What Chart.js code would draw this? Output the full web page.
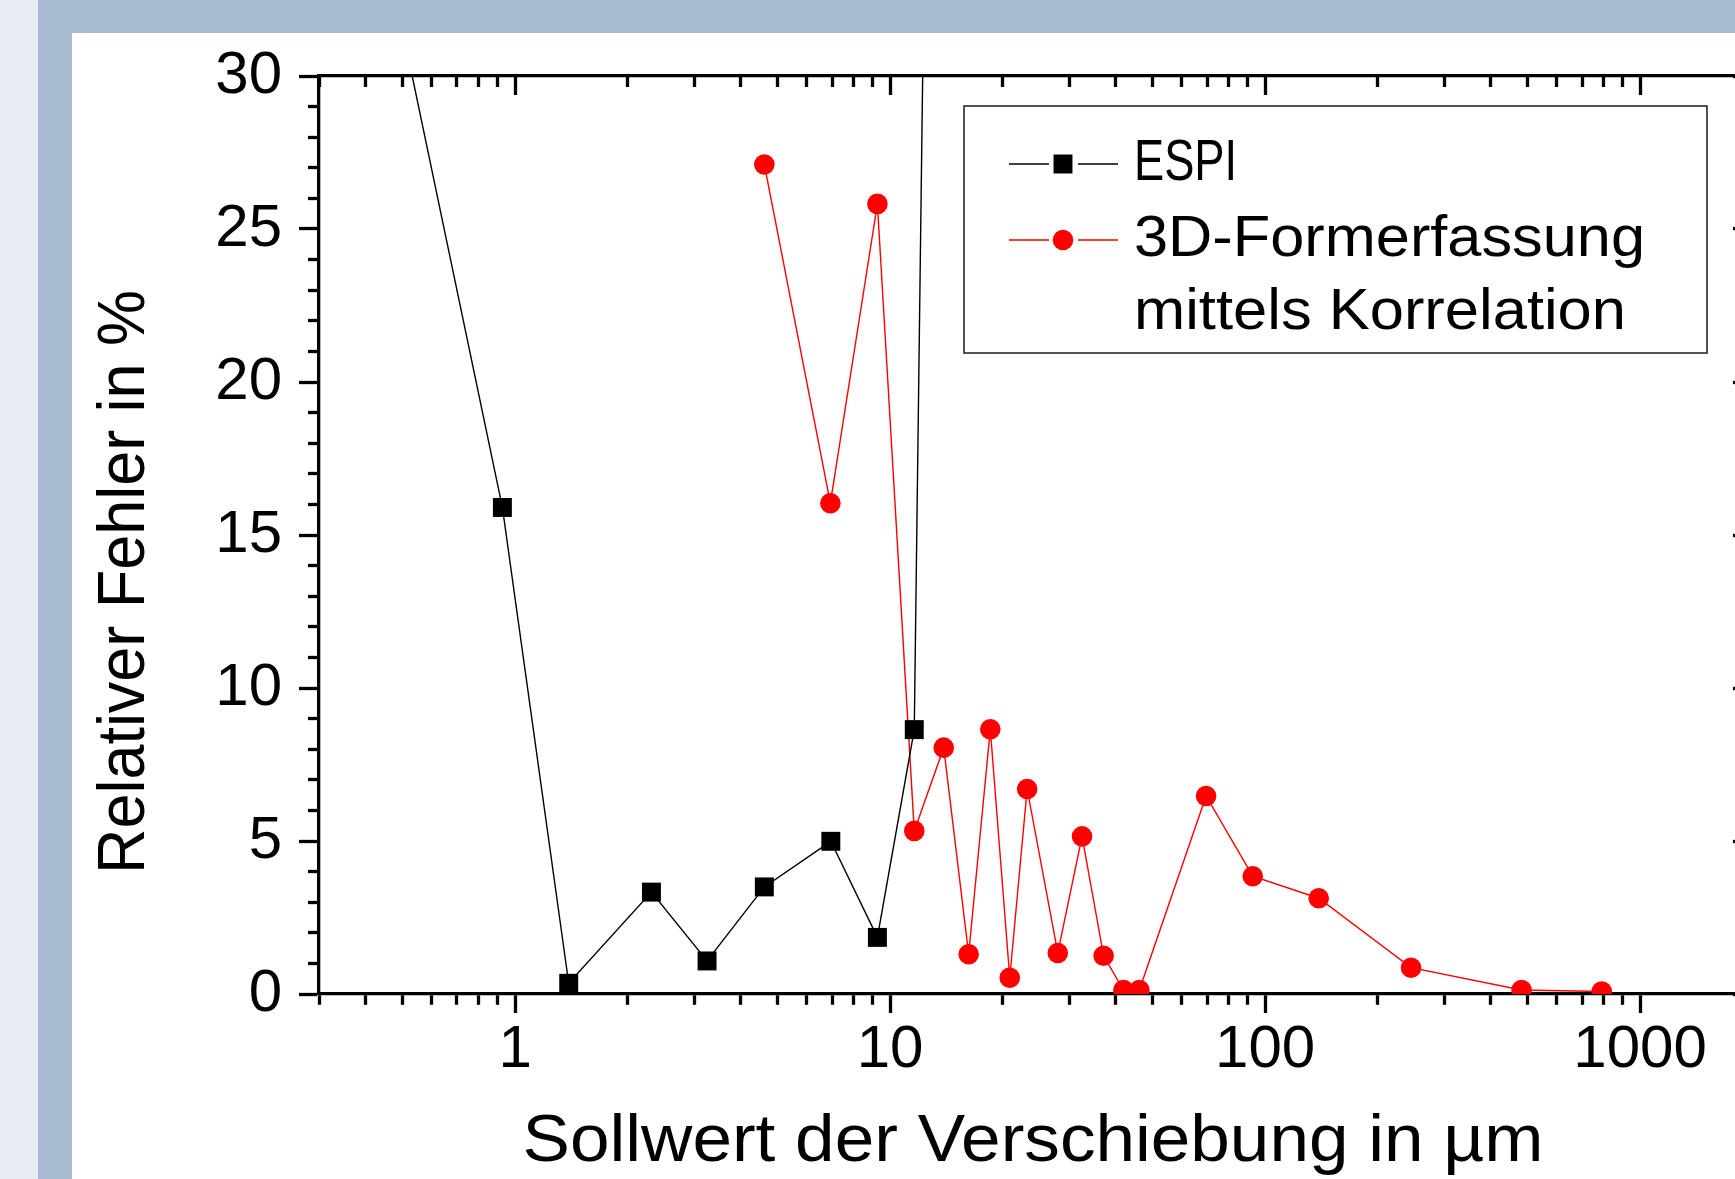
<!DOCTYPE html>
<html>
<head>
<meta charset="utf-8">
<script src="https://cdn.jsdelivr.net/npm/chart.js@4/dist/chart.umd.min.js"></script>
<style>
html,body{margin:0;padding:0;width:1735px;height:1179px;overflow:hidden;background:#e7ecf4;}
#blue{position:absolute;left:38px;top:0;width:1697px;height:1179px;background:#a9bbd1;}
#white{position:absolute;left:72px;top:33px;width:1663px;height:1146px;background:#ffffff;}
#c{position:absolute;left:0;top:0;}
</style>
</head>
<body>
<div id="blue"></div>
<div id="white"></div>
<canvas id="c" width="1800" height="1179"></canvas>
<script>
// ---- data ----
const espiX = [0.4615, 0.925, 1.39, 2.31, 3.25, 4.62, 6.95, 9.25, 11.6, 13.85];
const espiY = [33.6, 15.9, 0.35, 3.33, 1.08, 3.5, 4.99, 1.85, 8.64, 82];
const redX = [4.62, 6.93, 9.25, 11.6, 13.9, 16.2, 18.5, 20.85, 23.2, 28.0, 32.5, 37.1, 41.9, 46.2, 69.6, 92.7, 139, 245, 483, 790];
const redY = [27.11, 16.04, 25.82, 5.33, 8.05, 1.30, 8.65, 0.53, 6.70, 1.34, 5.15, 1.25, 0.13, 0.13, 6.47, 3.85, 3.13, 0.86, 0.13, 0.08];
const seriesLabels = ['ESPI', '3D-Formerfassung\nmittels Korrelation'];
const xTickLabels = [1, 10, 100, 1000];
const yTickLabels = [0, 5, 10, 15, 20, 25, 30];
const xTitle = 'Sollwert der Verschiebung in \u00b5m';
const yTitle = 'Relativer Fehler in %';

// ---- styling ----
const FONT = "'Liberation Sans', Arial, sans-serif";
const X_MIN = 0.3, X_MAX = 2000, Y_MIN = 0, Y_MAX = 30;
const AXW = 3.3;

function logTickValues() {
  const vals = [];
  for (let k = -1; k <= 3; k++) {
    for (let d = 1; d <= 9; d++) {
      const v = d * Math.pow(10, k);
      if (v >= X_MIN - 1e-9 && v <= X_MAX + 1e-9) vals.push(v);
    }
  }
  return vals;
}
const isDecade = v => Math.abs(Math.log10(v) - Math.round(Math.log10(v))) < 1e-9;
function setXTicks(scale) { scale.ticks = logTickValues().map(v => ({value: v, major: isDecade(v)})); }
function setYTicks(scale) {
  const t = [];
  for (let v = Y_MIN; v <= Y_MAX; v++) t.push({value: v, major: v % 5 === 0});
  scale.ticks = t;
}
const isMajor = c => c.tick && c.tick.major;

const pts = (xs, ys) => xs.map((x, i) => ({x: x, y: ys[i]}));

function drawFitted(ctx, text, x, y, w, align, rot) {
  ctx.save();
  ctx.translate(x, y);
  if (rot) ctx.rotate(rot);
  const m = ctx.measureText(text).width;
  ctx.scale(w / m, 1);
  ctx.textAlign = align;
  ctx.fillText(text, 0, 0);
  ctx.restore();
}

const decorPlugin = {
  id: 'decor',
  afterDraw(chart) {
    const ctx = chart.ctx;
    ctx.save();
    ctx.fillStyle = '#000';
    ctx.textBaseline = 'middle';
    // axis titles
    ctx.font = '66px ' + FONT;
    drawFitted(ctx, xTitle, 1033, 1143, 1021, 'center', 0);
    drawFitted(ctx, yTitle, 126, 582, 584, 'center', -Math.PI / 2);

    // legend box
    ctx.lineWidth = 1.5;
    ctx.strokeStyle = '#1a1a1a';
    ctx.strokeRect(964, 106, 743, 247);
    const rows = [
      {ds: 0, y: 164, lines: seriesLabels[0].split('\n'), widths: [103]},
      {ds: 1, y: 240, lines: seriesLabels[1].split('\n'), widths: [511, 492]}
    ];
    rows.forEach(r => {
      const ds = chart.data.datasets[r.ds];
      ctx.strokeStyle = ds.borderColor;
      ctx.lineWidth = ds.borderWidth;
      ctx.beginPath();
      ctx.moveTo(1009, r.y); ctx.lineTo(1049, r.y);
      ctx.moveTo(1078, r.y); ctx.lineTo(1118, r.y);
      ctx.stroke();
      ctx.fillStyle = ds.pointBackgroundColor;
      ctx.strokeStyle = ds.pointBackgroundColor;
      Chart.helpers.drawPoint(ctx, {pointStyle: ds.pointStyle, radius: ds.pointRadius, rotation: 0, borderWidth: 0}, 1063, r.y);
      ctx.fillStyle = '#000';
      ctx.font = '57px ' + FONT;
      r.lines.forEach((t, i) => drawFitted(ctx, t, 1134, r.y + i * 73, r.widths[i], 'left', 0));
    });
    ctx.restore();
  }
};

const tickFont = {family: FONT, size: 60, lineHeight: 1};

new Chart(document.getElementById('c'), {
  type: 'line',
  data: {
    datasets: [
      {
        label: seriesLabels[0],
        data: pts(espiX, espiY),
        borderColor: '#000000',
        borderWidth: 1.4,
        pointStyle: 'rect',
        pointRadius: 13.4,
        pointBackgroundColor: '#000000',
        pointBorderWidth: 0,
        tension: 0,
        xAxisID: 'x', yAxisID: 'y'
      },
      {
        label: seriesLabels[1],
        data: pts(redX, redY),
        borderColor: '#ff0000',
        borderWidth: 1.4,
        pointStyle: 'circle',
        pointRadius: 10.3,
        pointBackgroundColor: '#ff0000',
        pointBorderWidth: 0,
        tension: 0,
        xAxisID: 'x', yAxisID: 'y'
      }
    ]
  },
  options: {
    responsive: false,
    animation: false,
    devicePixelRatio: 1,
    layout: {padding: {left: 0, top: 76, right: 47, bottom: 0}},
    plugins: {legend: {display: false}, tooltip: {enabled: false}},
    scales: {
      x: {
        type: 'logarithmic', position: 'bottom', min: X_MIN, max: X_MAX,
        afterBuildTicks: setXTicks,
        afterFit: s => { s.height = 185; },
        border: {display: true, width: AXW, color: '#000'},
        grid: {
          drawOnChartArea: false, drawTicks: true, tickLength: 19, tickWidth: AXW, tickColor: '#000',
          tickBorderDash: c => isMajor(c) ? [] : [9.5, 100],
          tickBorderDashOffset: 0
        },
        ticks: {
          autoSkip: false, maxRotation: 0, minRotation: 0, padding: 7, color: '#000', font: tickFont,
          callback: v => xTickLabels.includes(v) ? String(v) : ''
        }
      },
      xTop: {
        type: 'logarithmic', position: 'top', min: X_MIN, max: X_MAX,
        afterBuildTicks: setXTicks,
        afterFit: s => { s.height = 0; },
        border: {display: true, width: AXW, color: '#000'},
        grid: {
          drawOnChartArea: false, drawTicks: true, tickLength: -19, tickWidth: AXW, tickColor: '#000',
          tickBorderDash: c => isMajor(c) ? [] : [12.5, 100],
          tickBorderDashOffset: c => isMajor(c) ? 0 : 104.5
        },
        ticks: {display: false, autoSkip: false, maxRotation: 0, minRotation: 0}
      },
      y: {
        type: 'linear', position: 'left', min: Y_MIN, max: Y_MAX,
        afterBuildTicks: setYTicks,
        afterFit: s => { s.width = 319; },
        border: {display: true, width: AXW, color: '#000'},
        grid: {
          drawOnChartArea: false, drawTicks: true, tickLength: 20, tickWidth: AXW, tickColor: '#000',
          tickBorderDash: c => isMajor(c) ? [] : [9.5, 100],
          tickBorderDashOffset: c => isMajor(c) ? 0 : 100.5
        },
        ticks: {
          autoSkip: false, padding: 17, color: '#000', font: tickFont,
          callback: v => yTickLabels.includes(v) ? String(v) : ''
        }
      },
      yRight: {
        type: 'linear', position: 'right', min: Y_MIN, max: Y_MAX,
        afterBuildTicks: setYTicks,
        afterFit: s => { s.width = 0; },
        border: {display: true, width: AXW, color: '#000'},
        grid: {
          drawOnChartArea: false, drawTicks: true, tickLength: -20, tickWidth: AXW, tickColor: '#000',
          tickBorderDash: c => isMajor(c) ? [] : [12.5, 100],
          tickBorderDashOffset: 0
        },
        ticks: {display: false, autoSkip: false}
      }
    }
  },
  plugins: [decorPlugin]
});
</script>
</body>
</html>
